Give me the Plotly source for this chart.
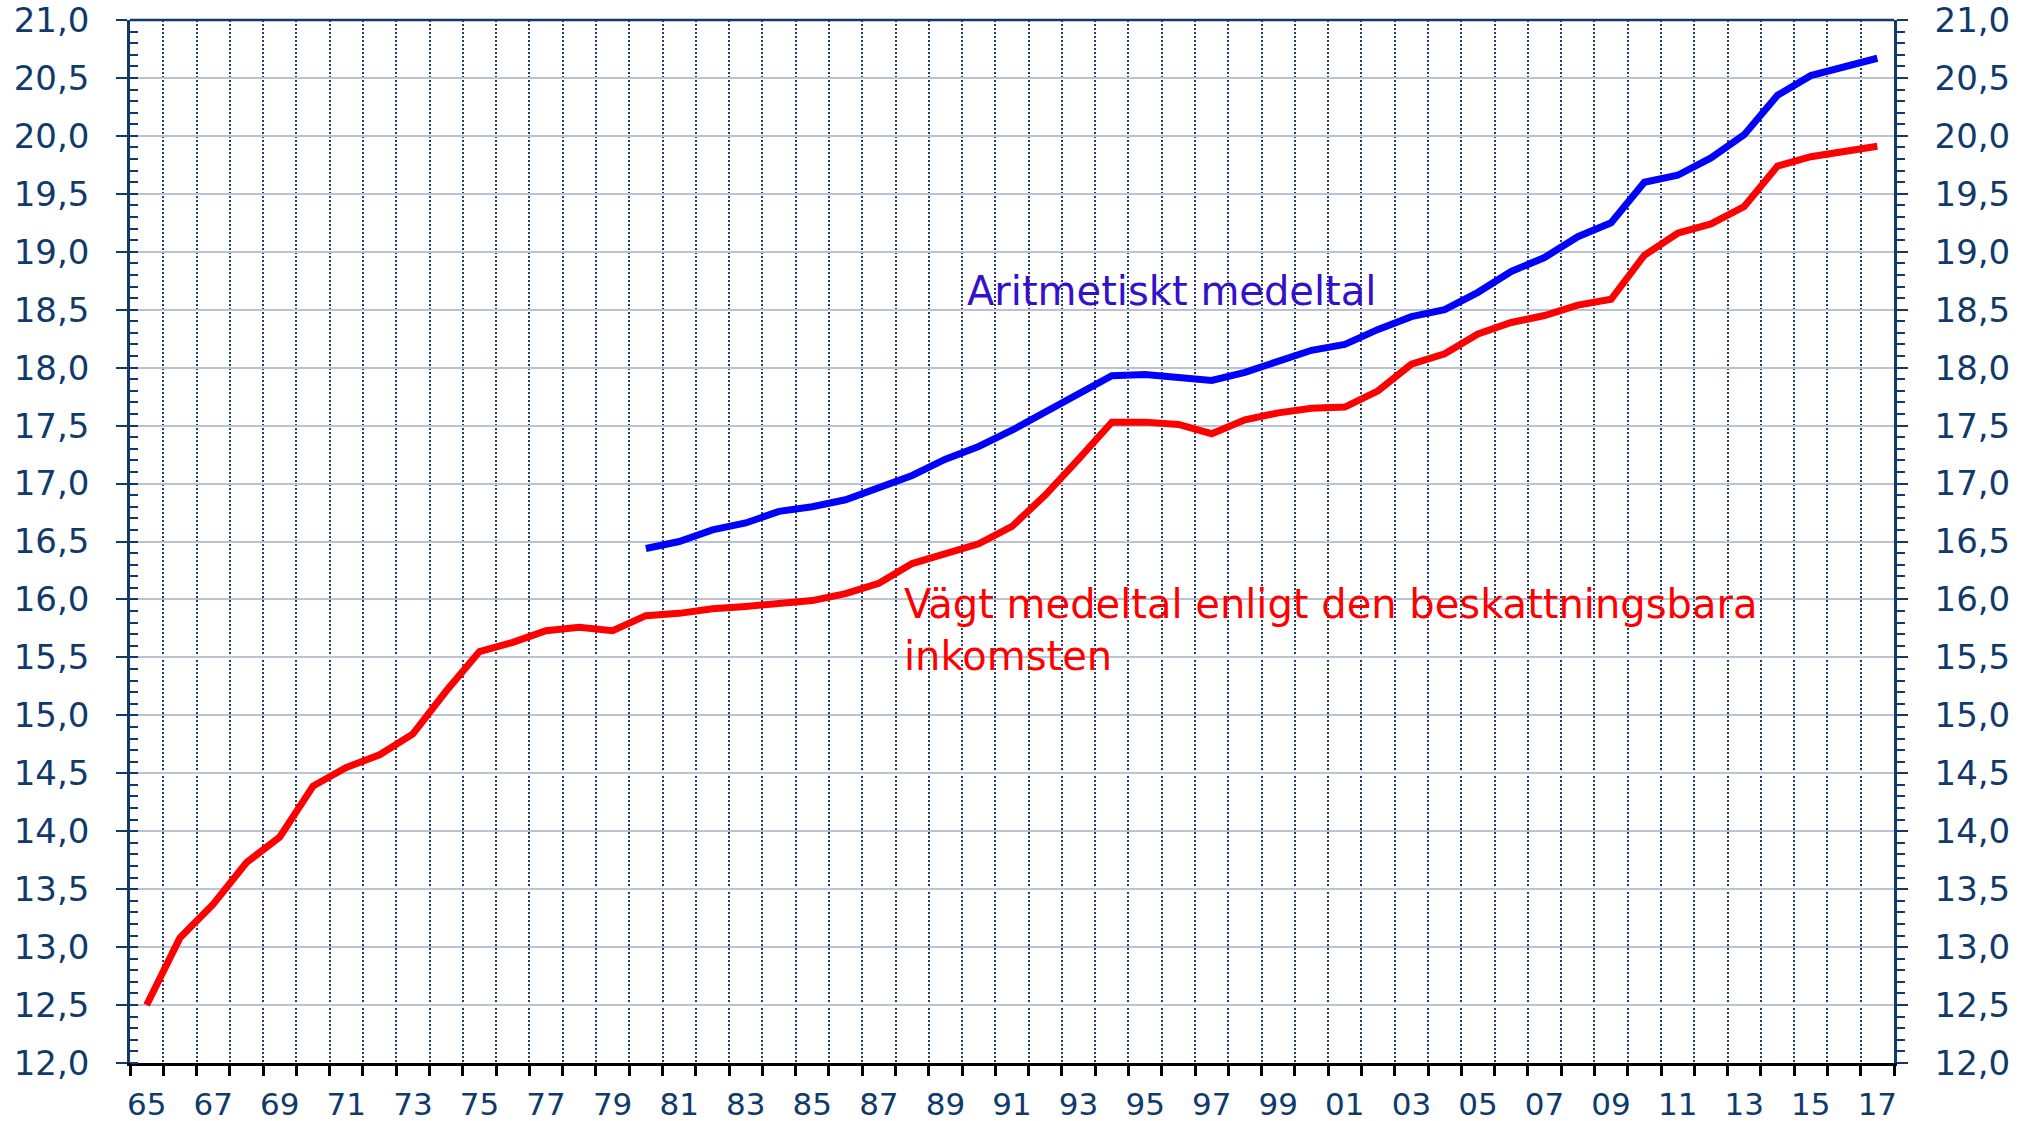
import plotly.graph_objects as go

# years 1965-2017
years = list(range(1965, 2018))

# weighted mean (by taxable income), 1965-2017
vagt = [12.50, 13.08, 13.37, 13.73, 13.95, 14.39, 14.55, 14.66, 14.84, 15.21,
        15.55, 15.63, 15.73, 15.76, 15.73, 15.86, 15.88, 15.92, 15.94, 15.97,
        15.99, 16.05, 16.14, 16.31, 16.39, 16.48, 16.63, 16.90, 17.21, 17.53,
        17.53, 17.51, 17.43, 17.55, 17.61, 17.65, 17.66, 17.80, 18.03, 18.12,
        18.29, 18.39, 18.45, 18.54, 18.59, 18.97, 19.16, 19.24, 19.39, 19.74,
        19.82, 19.86, 19.91]

# arithmetic mean, 1980-2017
arit_years = list(range(1980, 2018))
arit = [16.44, 16.50, 16.60, 16.66, 16.76, 16.80, 16.86, 16.96, 17.07, 17.21,
        17.32, 17.46, 17.62, 17.77, 17.93, 17.94, 17.92, 17.89, 17.96, 18.06,
        18.15, 18.20, 18.33, 18.44, 18.50, 18.65, 18.83, 18.95, 19.13, 19.25,
        19.60, 19.66, 19.81, 20.01, 20.35, 20.52, 20.60, 20.67]

y_ticks = [12.0, 12.5, 13.0, 13.5, 14.0, 14.5, 15.0, 15.5, 16.0, 16.5,
           17.0, 17.5, 18.0, 18.5, 19.0, 19.5, 20.0, 20.5, 21.0]
y_ticktext = [f"{v:.1f}".replace(".", ",") for v in y_ticks]

tick_years = years[::2]
tick_text = [str(y)[2:] for y in tick_years]
boundaries = [y - 0.5 for y in years] + [years[-1] + 0.5]

navy = "#0f3a6b"
font = "DejaVu Sans"

fig = go.Figure()
fig.add_trace(go.Scatter(x=years, y=vagt, mode="lines",
                         line=dict(color="#ff0000", width=7), hoverinfo="skip"))
fig.add_trace(go.Scatter(x=arit_years, y=arit, mode="lines",
                         line=dict(color="#0000ff", width=7), hoverinfo="skip"))
# invisible copy so the right axis gets drawn
fig.add_trace(go.Scatter(x=years, y=vagt, yaxis="y2", mode="lines",
                         line=dict(color="rgba(0,0,0,0)", width=0), hoverinfo="skip"))

fig.add_annotation(x=1989.6, y=18.66, xref="x", yref="y", text="Aritmetiskt medeltal",
                   showarrow=False, xanchor="left", yanchor="middle",
                   font=dict(family=font, size=40, color="#3311cc"))
fig.add_annotation(x=1987.7, y=15.74, xref="x", yref="y",
                   text="Vägt medeltal enligt den beskattningsbara<br>inkomsten",
                   showarrow=False, xanchor="left", yanchor="middle", align="left",
                   font=dict(family=font, size=40, color="#ff0000"))

# top border of the plot area
fig.add_shape(type="line", xref="paper", yref="paper", x0=0, x1=1, y0=1, y1=1,
              line=dict(color=navy, width=2.5))

yaxis_common = dict(
    range=[12, 21], tickmode="array", tickvals=y_ticks, ticktext=y_ticktext,
    showline=True, linecolor=navy, linewidth=2.5,
    ticks="outside", ticklen=11, tickwidth=2, tickcolor=navy,
    tickfont=dict(family=font, size=34, color=navy),
    ticklabelstandoff=20, ticklabeloverflow="allow",
    zeroline=False, automargin=False,
    minor=dict(tickmode="linear", tick0=12, dtick=0.1, ticklen=8, tickwidth=2,
               tickcolor=navy, showgrid=False),
)

fig.update_layout(
    width=2020, height=1121,
    margin=dict(l=130, r=126, t=20, b=58),
    paper_bgcolor="white", plot_bgcolor="white",
    showlegend=False,
    xaxis=dict(
        range=[1964.5, 2017.5], tickmode="array", tickvals=tick_years, ticktext=tick_text,
        ticks="", showgrid=False, zeroline=False, automargin=False,
        showline=True, linecolor="black", linewidth=3,
        tickfont=dict(family=font, size=31, color=navy),
        ticklabelstandoff=12, ticklabeloverflow="allow",
        minor=dict(tickvals=boundaries, ticks="outside", ticklen=10, tickwidth=2.5,
                   tickcolor="black", showgrid=True, gridcolor="#1f3d6e",
                   gridwidth=2, griddash="2px,2px"),
    ),
    yaxis=dict(**yaxis_common, side="left", showgrid=True,
               gridcolor="#bac3d2", gridwidth=2),
    yaxis2=dict(**yaxis_common, side="right", overlaying="y", showgrid=False),
)
fig.update_layout(yaxis_minor_ticks="inside", yaxis2_minor_ticks="outside")

# drop the default body margin so the figure fills the window
fig.write_html("out.html", config={"displayModeBar": False},
               post_script="document.body.style.margin='0';")
